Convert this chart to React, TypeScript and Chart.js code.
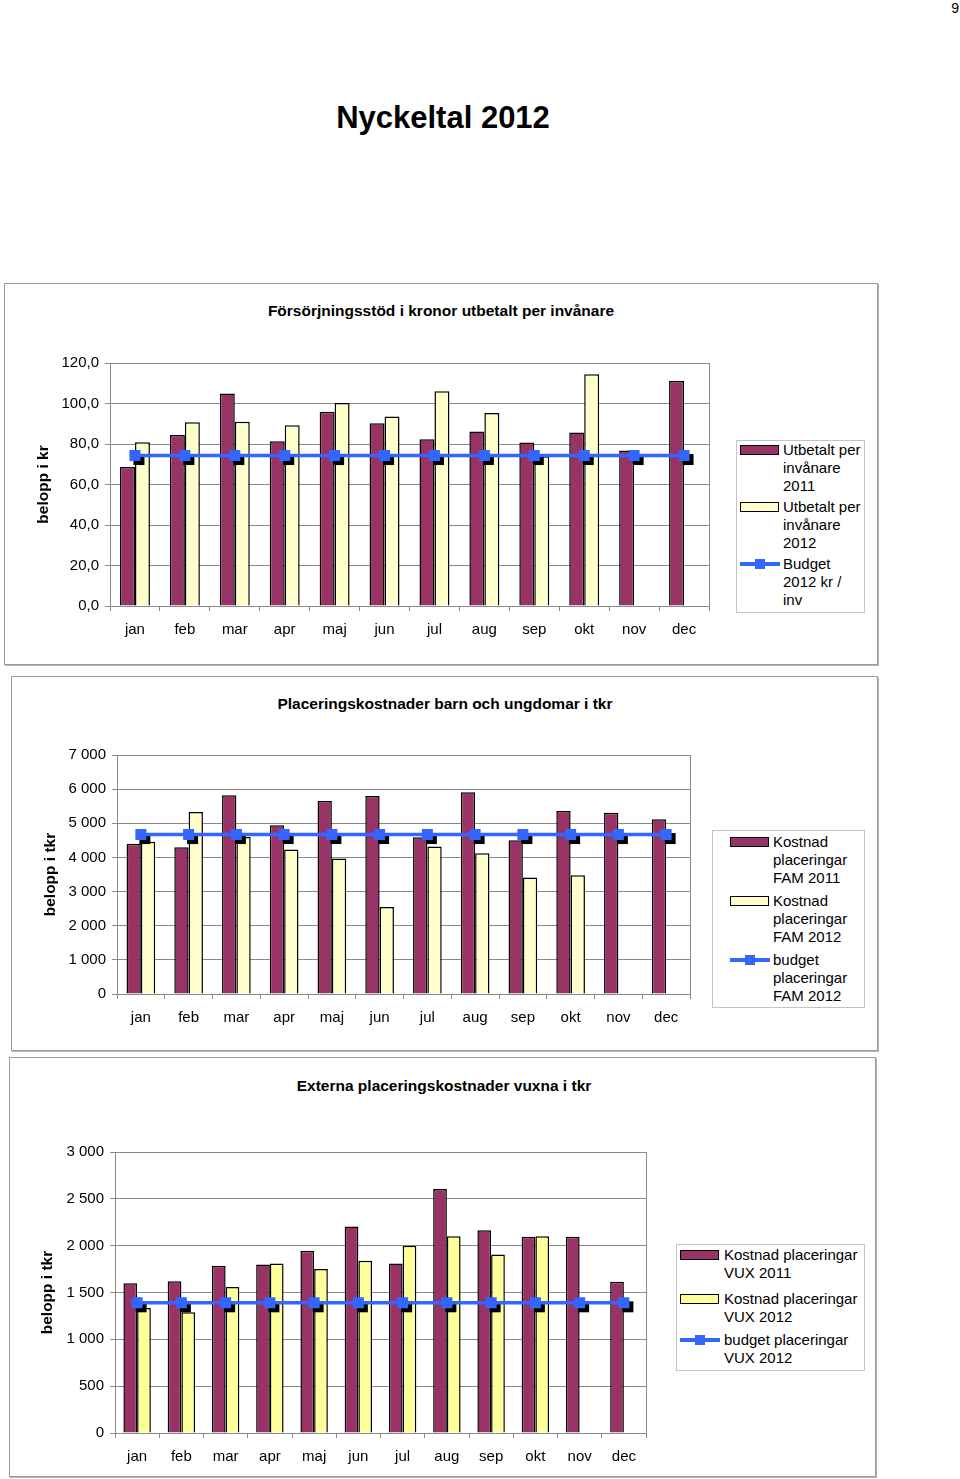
import React, { useEffect, useRef } from "react";
import { Chart, registerables } from "chart.js";

Chart.register(...registerables);
Chart.defaults.font.family = "'Liberation Sans', Arial, Helvetica, sans-serif";

// ---------- DATA ----------
const months = ["jan", "feb", "mar", "apr", "maj", "jun", "jul", "aug", "sep", "okt", "nov", "dec"];

// Chart 1: Försörjningsstöd i kronor utbetalt per invånare
const fsd2011 = [68.7, 84.4, 105.0, 81.3, 95.9, 90.3, 82.4, 86.2, 80.8, 85.7, 76.8, 111.1];
const fsd2012 = [80.9, 90.7, 91.0, 89.2, 100.2, 93.6, 106.1, 95.3, 74.0, 114.4, null, null];
const fsdBudget = [74.3, 74.3, 74.3, 74.3, 74.3, 74.3, 74.3, 74.3, 74.3, 74.3, 74.3, 74.3];
const fsdLegend = [
  ["Utbetalt per", "invånare", "2011"],
  ["Utbetalt per", "invånare", "2012"],
  ["Budget", "2012 kr /", "inv"],
];

// Chart 2: Placeringskostnader barn och ungdomar i tkr
const fam2011 = [4400, 4300, 5820, 4940, 5650, 5800, 4590, 5910, 4500, 5360, 5310, 5120];
const fam2012 = [4460, 5330, 4600, 4230, 3970, 2550, 4320, 4120, 3410, 3480, null, null];
const famBudget = [4670, 4670, 4670, 4670, 4670, 4670, 4670, 4670, 4670, 4670, 4670, 4670];
const famLegend = [
  ["Kostnad", "placeringar", "FAM 2011"],
  ["Kostnad", "placeringar", "FAM 2012"],
  ["budget", "placeringar", "FAM 2012"],
];

// Chart 3: Externa placeringskostnader vuxna i tkr
const vux2011 = [1600, 1620, 1785, 1800, 1945, 2205, 1810, 2605, 2165, 2095, 2095, 1615];
const vux2012 = [1335, 1290, 1560, 1810, 1750, 1840, 2000, 2100, 1905, 2100, null, null];
const vuxBudget = [1390, 1390, 1390, 1390, 1390, 1390, 1390, 1390, 1390, 1390, 1390, 1390];
const vuxLegend = [
  ["Kostnad placeringar", "VUX 2011"],
  ["Kostnad placeringar", "VUX 2012"],
  ["budget placeringar", "VUX 2012"],
];

// ---------- STYLE ----------
const PURPLE = "#993366";
const LIGHT_YELLOW = "#FFFFCC";
const YELLOW = "#FFFF99";
const BLUE = "#3366FF";
const GRID = "#8a8a8a";
const FONT = "'Liberation Sans', Arial, Helvetica, sans-serif";

const fmtDecimal = (v: number) => v.toFixed(1).replace(".", ",");
const fmtThousands = (v: number) => String(v).replace(/\B(?=(\d{3})+(?!\d))/g, " ");

const plotBorder = {
  id: "plotBorder",
  beforeDatasetsDraw(chart: any) {
    const { ctx, chartArea: a } = chart;
    ctx.save();
    ctx.strokeStyle = GRID;
    ctx.lineWidth = 1;
    ctx.strokeRect(Math.round(a.left) + 0.5, Math.round(a.top) + 0.5, Math.round(a.right - a.left), Math.round(a.bottom - a.top));
    ctx.restore();
  },
};

const markerShadow = {
  id: "markerShadow",
  beforeDatasetDraw(chart: any, args: any) {
    const meta = args.meta;
    if (meta.type !== "line") return;
    const { ctx } = chart;
    ctx.save();
    ctx.fillStyle = "#000";
    for (const el of meta.data) {
      ctx.fillRect(el.x - 5.5 + 4, el.y - 5.5 + 4, 11, 11);
    }
    ctx.restore();
  },
};

type Rect = { left: number; top: number; width: number; height: number };

type PanelProps = {
  rect: Rect;
  padding: { right: number; top: number; bottom: number };
  yMax: number;
  yStep: number;
  yFmt: (v: number) => string;
  yTitle: string;
  yTitlePad: number;
  a: (number | null)[];
  b: (number | null)[];
  budget: number[];
  labels: string[][];
  colorB: string;
  catPct: number;
};

function ChartPanel(p: PanelProps) {
  const ref = useRef<HTMLCanvasElement | null>(null);
  useEffect(() => {
    if (!ref.current) return;
    const chart = new Chart(ref.current, {
      type: "bar",
      data: {
        labels: months,
        datasets: [
          {
            type: "bar",
            label: p.labels[0].join(" "),
            data: p.a,
            backgroundColor: PURPLE,
            borderColor: "#000",
            borderWidth: 1.5,
            categoryPercentage: p.catPct,
            barPercentage: 1.0,
            order: 1,
          } as any,
          {
            type: "bar",
            label: p.labels[1].join(" "),
            data: p.b,
            backgroundColor: p.colorB,
            borderColor: "#000",
            borderWidth: 1.5,
            categoryPercentage: p.catPct,
            barPercentage: 1.0,
            order: 1,
          } as any,
          {
            type: "line",
            label: p.labels[2].join(" "),
            data: p.budget,
            borderColor: BLUE,
            backgroundColor: BLUE,
            borderWidth: 3.5,
            pointStyle: "rect",
            pointRadius: 7.8,
            pointBorderWidth: 0,
            pointBackgroundColor: BLUE,
            fill: false,
            order: 0,
          } as any,
        ],
      },
      options: {
        responsive: false,
        animation: false,
        layout: { padding: { left: 0, right: p.padding.right, top: p.padding.top, bottom: p.padding.bottom } },
        plugins: {
          legend: { display: false },
          title: { display: false },
          tooltip: { enabled: false },
        },
        scales: {
          x: {
            type: "category",
            offset: true,
            grid: { display: true, drawOnChartArea: false, drawTicks: true, tickLength: 5, offset: true, color: GRID },
            border: { display: true, color: GRID },
            ticks: { color: "#000", font: { size: 15, family: FONT }, padding: 10, maxRotation: 0, autoSkip: false },
            afterFit: (s: any) => {
              s.height = 40;
            },
          },
          y: {
            min: 0,
            max: p.yMax,
            grid: { color: GRID, tickLength: 5, drawTicks: true },
            border: { display: true, color: GRID },
            ticks: {
              stepSize: p.yStep,
              color: "#000",
              font: { size: 15, family: FONT },
              padding: 6,
              callback: (v: any) => p.yFmt(Number(v)),
            },
            title: {
              display: true,
              text: p.yTitle,
              color: "#000",
              font: { size: 15.5, weight: "bold", family: FONT },
              padding: { top: p.yTitlePad, bottom: 0 },
            },
            afterFit: (s: any) => {
              s.width = 106;
            },
          },
        },
      } as any,
      plugins: [plotBorder, markerShadow],
    });
    return () => chart.destroy();
  }, []);
  return (
    <canvas
      ref={ref}
      width={p.rect.width}
      height={p.rect.height}
      style={{ position: "absolute", left: p.rect.left, top: p.rect.top, width: p.rect.width, height: p.rect.height }}
    />
  );
}

type LegendProps = {
  box: Rect;
  swatchLeft: number;
  textLeft: number;
  itemTops: number[];
  lines: string[][];
  colors: string[];
};

function Legend(l: LegendProps) {
  return (
    <>
      <div
        style={{
          position: "absolute",
          left: l.box.left,
          top: l.box.top,
          width: l.box.width,
          height: l.box.height,
          border: "1px solid #c4c4c4",
          boxSizing: "border-box",
          background: "#fff",
        }}
      />
      {l.lines.map((lines, i) => {
        const top = l.itemTops[i];
        const isLine = i === 2;
        return (
          <React.Fragment key={i}>
            {isLine ? (
              <>
                <div style={{ position: "absolute", left: l.swatchLeft, top: top + 9 - 1.75, width: 40, height: 3.5, background: BLUE }} />
                <div style={{ position: "absolute", left: l.swatchLeft + 15, top: top + 9 - 5, width: 10, height: 10, background: BLUE }} />
              </>
            ) : (
              <div
                style={{
                  position: "absolute",
                  left: l.swatchLeft,
                  top: top + 9 - 5,
                  width: 39,
                  height: 10,
                  background: l.colors[i],
                  border: "1.5px solid #000",
                  boxSizing: "border-box",
                }}
              />
            )}
            <div
              style={{
                position: "absolute",
                left: l.textLeft,
                top,
                fontFamily: FONT,
                fontSize: 15,
                lineHeight: "18px",
                color: "#000",
                whiteSpace: "nowrap",
              }}
            >
              {lines.map((t, j) => (
                <div key={j}>{t}</div>
              ))}
            </div>
          </React.Fragment>
        );
      })}
    </>
  );
}

function Box({ r }: { r: Rect }) {
  return (
    <div
      style={{
        position: "absolute",
        left: r.left,
        top: r.top,
        width: r.width,
        height: r.height,
        border: "1px solid #9c9c9c",
        boxShadow: "1px 1px 0 #b4b4b4",
        boxSizing: "border-box",
        background: "#fff",
      }}
    />
  );
}

function Title({ text, cx, top }: { text: string; cx: number; top: number }) {
  return (
    <div
      style={{
        position: "absolute",
        left: cx - 300,
        width: 600,
        top,
        textAlign: "center",
        fontFamily: FONT,
        fontWeight: "bold",
        fontSize: 15.5,
        lineHeight: "18px",
        color: "#000",
        whiteSpace: "nowrap",
      }}
    >
      {text}
    </div>
  );
}

export default function App() {
  const r1 = { left: 4, top: 283, width: 874, height: 382 };
  const r2 = { left: 11, top: 676, width: 867, height: 375 };
  const r3 = { left: 9, top: 1057, width: 867, height: 420 };
  return (
    <div style={{ position: "absolute", left: 0, top: 0, width: 960, height: 1479, overflow: "hidden", background: "#fff" }}>
      <div style={{ position: "absolute", left: 942, width: 17, top: 0, textAlign: "right", fontFamily: FONT, fontSize: 14, lineHeight: "16px" }}>9</div>
      <div
        style={{
          position: "absolute",
          left: 0,
          width: 886,
          top: 100,
          textAlign: "center",
          fontFamily: FONT,
          fontWeight: "bold",
          fontSize: 31,
          lineHeight: "36px",
        }}
      >
        Nyckeltal 2012
      </div>

      <Box r={r1} />
      <Title text="Försörjningsstöd i kronor utbetalt per invånare" cx={441} top={302} />
      <ChartPanel
        rect={r1}
        padding={{ right: 169, top: 80, bottom: 19 }}
        yMax={120}
        yStep={20}
        yFmt={fmtDecimal}
        yTitle="belopp i kr"
        yTitlePad={30}
        a={fsd2011}
        b={fsd2012}
        budget={fsdBudget}
        labels={fsdLegend}
        colorB={LIGHT_YELLOW}
        catPct={0.6}
      />
      <Legend
        box={{ left: 736, top: 440, width: 129, height: 173 }}
        swatchLeft={740}
        textLeft={783}
        itemTops={[441, 498, 555]}
        lines={fsdLegend}
        colors={[PURPLE, LIGHT_YELLOW]}
      />

      <Box r={r2} />
      <Title text="Placeringskostnader barn och ungdomar i tkr" cx={445} top={695} />
      <ChartPanel
        rect={r2}
        padding={{ right: 188, top: 79, bottom: 17 }}
        yMax={7000}
        yStep={1000}
        yFmt={fmtThousands}
        yTitle="belopp i tkr"
        yTitlePad={30}
        a={fam2011}
        b={fam2012}
        budget={famBudget}
        labels={famLegend}
        colorB={LIGHT_YELLOW}
        catPct={0.6}
      />
      <Legend
        box={{ left: 712, top: 830, width: 153, height: 178 }}
        swatchLeft={730}
        textLeft={773}
        itemTops={[833, 892, 951]}
        lines={famLegend}
        colors={[PURPLE, LIGHT_YELLOW]}
      />

      <Box r={r3} />
      <Title text="Externa placeringskostnader vuxna i tkr" cx={444} top={1077} />
      <ChartPanel
        rect={r3}
        padding={{ right: 230, top: 95, bottom: 4 }}
        yMax={3000}
        yStep={500}
        yFmt={fmtThousands}
        yTitle="belopp i tkr"
        yTitlePad={29}
        a={vux2011}
        b={vux2012}
        budget={vuxBudget}
        labels={vuxLegend}
        colorB={YELLOW}
        catPct={0.62}
      />
      <Legend
        box={{ left: 676, top: 1244, width: 189, height: 127 }}
        swatchLeft={680}
        textLeft={724}
        itemTops={[1246, 1290, 1331]}
        lines={vuxLegend}
        colors={[PURPLE, YELLOW]}
      />
    </div>
  );
}
